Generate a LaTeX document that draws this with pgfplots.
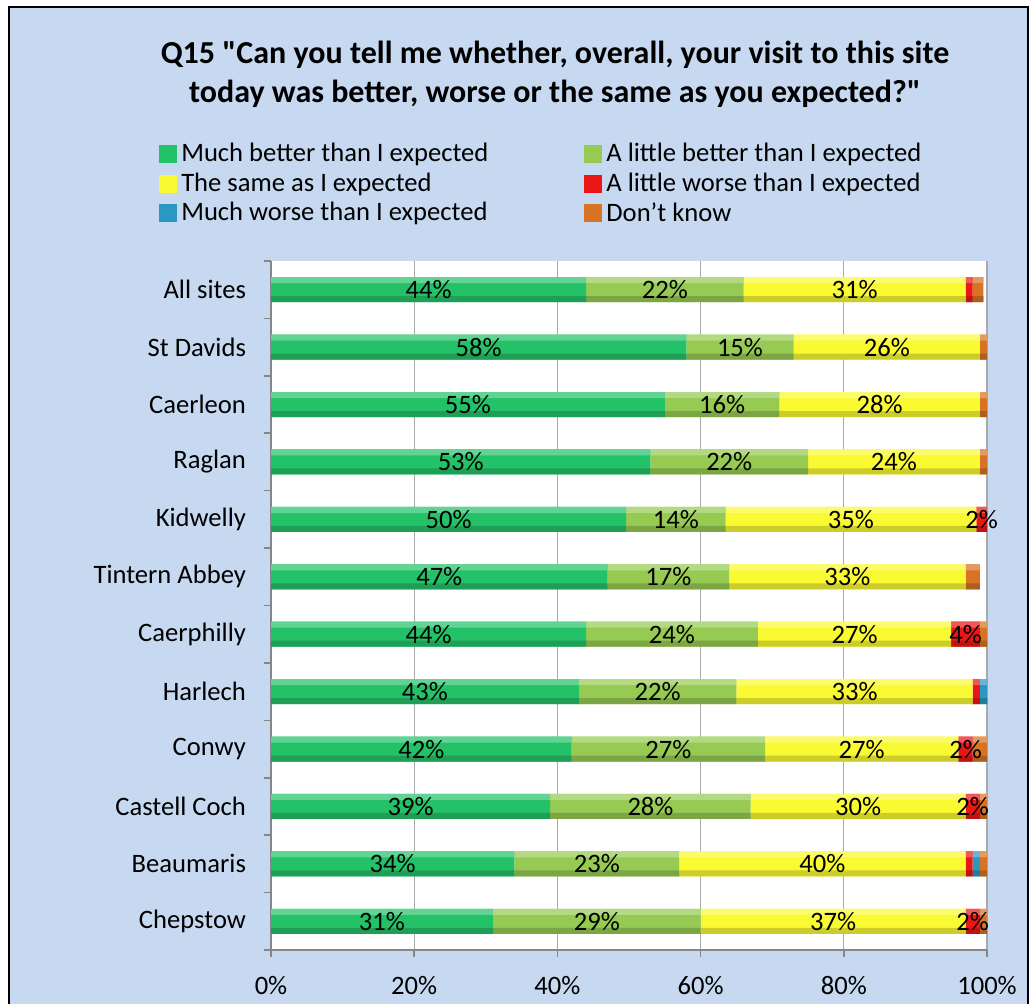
\documentclass[border=0pt]{standalone}
\usepackage{pgfplots}
\pgfplotsset{compat=1.18}
\usepackage{pgfplotstable}
\usepackage{fontspec}
\setmainfont{Carlito}
\newfontfamily\titlefont{Carlito}% no TeX quote mapping, keeps straight quotes

\definecolor{bgblue}{RGB}{198,217,240}
\definecolor{axgray}{RGB}{134,134,134}
\definecolor{cmuchbetter}{RGB}{36,194,104}
\definecolor{clittlebetter}{RGB}{150,202,82}
\definecolor{csame}{RGB}{250,250,50}
\definecolor{clittleworse}{RGB}{235,22,22}
\definecolor{cmuchworse}{RGB}{42,152,192}
\definecolor{cdontknow}{RGB}{215,115,35}

% Share of visitors (%) per answer; pos 11 = top row
\pgfplotstableread{
pos g    lg   s  lw  mw dk
11  44   22   31 1   0  1.5
10  58   15   26 0   0  1
9   55   16   28 0   0  1
8   53   22   24 0   0  1
7   49.6 13.9 35 1.5 0  0
6   47   17   33 0   0  2
5   44   24   27 4   0  1
4   43   22   33 1   1  0.5
3   42   27   27 2   0  2
2   39   28   30 2   0  1
1   34   23   40 1   1  1
0   31   29   37 2   0  1
}\survey

\newcommand{\chartfont}{\fontsize{13.3}{15}\selectfont}

\pgfplotsset{
  chartgeom/.style={
    at={(0,0)}, anchor=south west,
    scale only axis, width=358pt, height=344.5pt,
    xbar stacked, bar width=12.5pt,
    xmin=0, xmax=100, ymin=-0.5, ymax=11.5,
    /pgf/number format/assume math mode=true,
  },
  seglabel/.style={
    visualization depends on={rawx \as \segval},
    nodes near coords={\ifdim\segval pt<1.5pt\else\pgfmathprintnumber[fixed,precision=0,assume math mode=true]{\segval}\%\fi},
    nodes near coords align={center},
    every node near coord/.append style={anchor=center, text=black, font=\chartfont},
  },
}

% the six stacked segments, tinted by #1 (e.g. !60!white)
\newcommand{\segmentbands}[1]{%
  \addplot[fill=cmuchbetter#1, draw=none] table[x=g, y=pos] {\survey};
  \addplot[fill=clittlebetter#1, draw=none] table[x=lg, y=pos] {\survey};
  \addplot[fill=csame#1, draw=none] table[x=s, y=pos] {\survey};
  \addplot[fill=clittleworse#1, draw=none] table[x=lw, y=pos] {\survey};
  \addplot[fill=cmuchworse#1, draw=none] table[x=mw, y=pos] {\survey};
  \addplot[fill=cdontknow#1, draw=none] table[x=dk, y=pos] {\survey};
}

\begin{document}
\begin{tikzpicture}[x=1pt,y=1pt]
\useasboundingbox (-135.5,-26.5) rectangle (382.5,475);
\fill[bgblue] (-131,-40) rectangle (378.5,471.5);
\draw[black, line width=1pt] (-131,-40) -- (-131,471.5) -- (378.5,471.5) -- (378.5,-40);

% main bars, axes, ticks and legend
\begin{axis}[
  chartgeom,
  axis background/.style={fill=white},
  axis lines*=left,
  axis line style={axgray, line width=1pt, -},
  tick align=outside, major tick length=3.5pt,
  tick style={axgray, line width=0.8pt},
  xtick={0,20,...,100},
  xticklabel={\pgfmathprintnumber{\tick}\%},
  xticklabel style={yshift=-6pt},
  ytick={-0.5,0.5,...,11.5}, yticklabels={},
  extra y ticks={0,...,11},
  extra y tick labels={Chepstow,Beaumaris,Castell Coch,Conwy,Harlech,Caerphilly,Tintern Abbey,Kidwelly,Raglan,Caerleon,St Davids,All sites},
  extra y tick style={major tick length=0pt, yticklabel style={xshift=-9pt}},
  tick label style={font=\chartfont, text=black},
  xmajorgrids, major grid style={axgray!70, line width=0.6pt},
  legend columns=2,
  legend cell align=left,
  legend style={at={(axis description cs:-0.165,1.183)}, anchor=north west,
    draw=none, fill=none, font=\chartfont, row sep=0pt,
    /tikz/every even column/.append style={column sep=46pt}},
  legend image code/.code={\path[#1] (0pt,-4.5pt) rectangle (9pt,4.5pt);},
]
\segmentbands{}
\legend{Much better than I expected, A little better than I expected,
  The same as I expected, A little worse than I expected,
  Much worse than I expected, Don’t know}
\end{axis}

% light upper sheen of each bar
\begin{axis}[chartgeom, hide axis, bar width=3pt, bar shift=4.75pt]
\segmentbands{!72!white}
\end{axis}

% darker lower edge of each bar
\begin{axis}[chartgeom, hide axis, bar width=3pt, bar shift=-4.75pt]
\segmentbands{!82!black}
\end{axis}

% percentage labels centred in the segments
\begin{axis}[chartgeom, hide axis, clip=false]
\addplot[draw=none, fill=none, seglabel] table[x=g, y=pos] {\survey};
\addplot[draw=none, fill=none, seglabel] table[x=lg, y=pos] {\survey};
\addplot[draw=none, fill=none, seglabel] table[x=s, y=pos] {\survey};
\addplot[draw=none, fill=none, seglabel] table[x=lw, y=pos] {\survey};
\end{axis}

\node[font=\titlefont\bfseries\fontsize{16}{19.5}\selectfont, align=center] at (142,438)
  {Q15 "Can you tell me whether, overall, your visit to this site\\today was better, worse or the same as you expected?"};
\end{tikzpicture}
\end{document}
